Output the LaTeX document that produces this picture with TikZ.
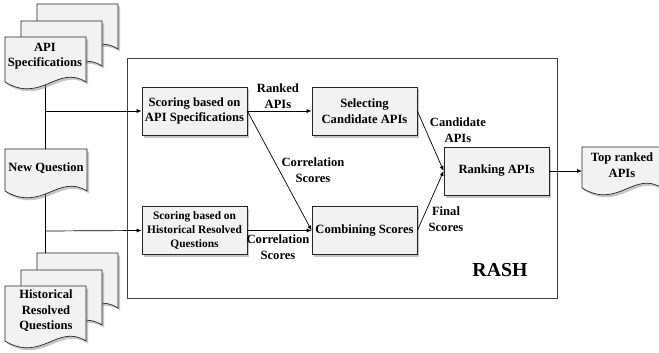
\documentclass[tikz,border=0pt]{standalone}
\usepackage{fontspec}
\setmainfont{Liberation Serif}
\usetikzlibrary{arrows.meta,shadows}
\definecolor{boxfill}{RGB}{242,242,242}
\newcommand\docshape[4]{%
  \pgfmathsetmacro\mydocw{#3-#1}%
  \pgfmathsetmacro\mydocxa{#3-0.35*\mydocw}%
  \pgfmathsetmacro\mydocxb{#3-0.55*\mydocw}%
  \pgfmathsetmacro\mydocya{#4-18}%
  \pgfmathsetmacro\mydocyb{#4+22}%
  \path[docstyle] (#1,#2) -- (#3,#2) -- (#3,#4) .. controls (\mydocxa,\mydocya) and (\mydocxb,\mydocyb) .. (#1,#4) -- cycle;%
}
\begin{document}
\begin{tikzpicture}[x=1pt,y=-1pt,
  mainfont/.style={font=\bfseries\fontsize{12.6}{15.5}\selectfont},
  smallfont/.style={font=\bfseries\fontsize{11.4}{14}\selectfont},
  docstyle/.style={draw=black!85,line width=0.7pt,fill=boxfill,
     drop shadow={shadow xshift=2pt,shadow yshift=-2.5pt,opacity=0.45,fill=gray}},
  procbox/.style={draw=black!85,line width=0.7pt,fill=boxfill,
     minimum width=105pt,minimum height=48pt,align=center,inner sep=1pt,
     drop shadow={shadow xshift=2pt,shadow yshift=-2.5pt,opacity=0.45,fill=gray}},
  txt/.style={align=center,inner sep=0pt,mainfont},
  lbl/.style={align=center,inner sep=0pt,mainfont},
  conn/.style={line width=0.7pt,draw=black},
  arr/.style={conn,-{Latex[length=5pt,width=4pt]}}]
\useasboundingbox (0,0) rectangle (659,353);

% RASH frame
\draw[line width=0.7pt,draw=black!75] (127,58) rectangle (557,298);
\node[font=\bfseries\fontsize{19.8}{22}\selectfont,inner sep=0pt] (rash) at (500,270) {RASH};

% input line
\coordinate (vtop) at (45,75);
\coordinate (vbot) at (45,253);
\coordinate (j1) at (45,111);
\coordinate (j2) at (45,231);
\draw[conn] (vtop) -- (vbot);

% API specification documents
\docshape{37}{4}{118}{49}
\docshape{21}{21}{102}{66}
\docshape{5}{37}{86}{82}
\node[txt] (api) at (45,56) {API\\Specifications};

% New question
\docshape{5}{149}{87}{191}
\node[txt] (newq) at (46,168) {New Question};

% Historical documents
\docshape{37}{253}{118}{308}
\docshape{21}{270}{102}{325}
\docshape{5}{286}{86}{341}
\node[txt] (hist) at (46,311) {Historical\\Resolved\\Questions};

% process boxes
\node[procbox,mainfont] (s1) at (194.5,111) {Scoring based on\\API Specifications};
\node[procbox,mainfont] (sel) at (364.5,111) {Selecting\\Candidate APIs};
\node[procbox,smallfont] (s2) at (194.5,230.5) {Scoring based on\\Historical Resolved\\Questions};
\node[procbox,mainfont] (comb) at (364.5,230.5) {Combining Scores};
\node[procbox,mainfont] (rank) at (496.5,171) {Ranking APIs};

% output document
\docshape{582}{147}{662}{188}
\node[txt] (top) at (622,165) {Top ranked\\APIs};

% connectors
\draw[arr] (j1) -- (s1.west);
\draw[arr] (j2) -- (s2.west);
\draw[arr] (s1.east) -- (sel.west);
\draw[arr] (s1.east) -- (comb.west);
\draw[arr] (s2.east) -- (comb.west);
\draw[arr] (sel.east) -- (rank.west);
\draw[arr] (comb.east) -- (rank.west);
\draw[arr] (rank.east) -- (582,171);

% labels
\node[lbl] (l1) at (278,96) {Ranked\\APIs};
\node[lbl] (l2) at (313,170) {Correlation\\Scores};
\node[lbl] (l3) at (278,247) {Correlation\\Scores};
\node[lbl] (l4) at (458,130) {Candidate\\APIs};
\node[lbl] (l5) at (446,219) {Final\\Scores};
\end{tikzpicture}
\end{document}
